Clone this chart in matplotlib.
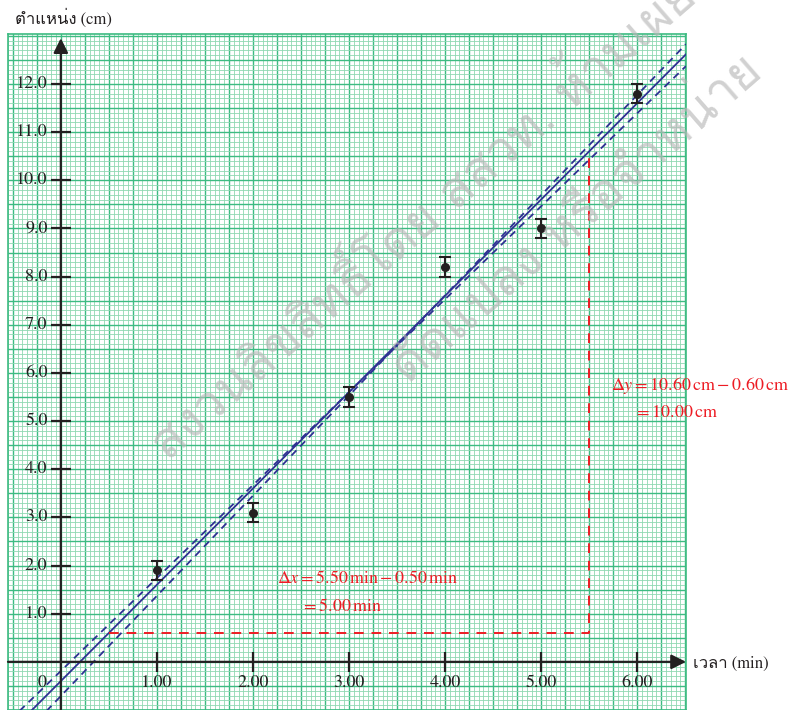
import matplotlib
matplotlib.use("Agg")
import matplotlib.pyplot as plt

# data
times = [1.0, 2.0, 3.0, 4.0, 5.0, 6.0]            # min
positions = [1.9, 3.1, 5.5, 8.2, 9.0, 11.8]       # cm
pos_err = [0.2, 0.2, 0.2, 0.2, 0.2, 0.2]
x_ticks = [1.0, 2.0, 3.0, 4.0, 5.0, 6.0]
x_labels = ["1.00", "2.00", "3.00", "4.00", "5.00", "6.00"]
y_ticks = [1.0, 2.0, 3.0, 4.0, 5.0, 6.0, 7.0, 8.0, 9.0, 10.0, 11.0, 12.0]
y_labels = ["1.0", "2.0", "3.0", "4.0", "5.0", "6.0", "7.0", "8.0", "9.0", "10.0", "11.0", "12.0"]
best_fit = (2.00, -0.40)     # slope, intercept
steep_fit = (2.08, -0.71)
shallow_fit = (1.93, -0.19)
slope_x = [0.5, 5.5]
slope_y = [0.6, 10.6]

serif = "STIXGeneral"
thai_family = [serif, "Loma", "DejaVu Sans"]   # Latin in serif, Thai falls to Loma
plt.rcParams["mathtext.fontset"] = "stix"

W, H = 806, 710
fig = plt.figure(figsize=(W / 100, H / 100), dpi=100)

# graph paper area in pixels
px_left, px_right, px_top, px_bot = 8, 686, 34, 710
x0_px, y0_px = 57.3, 665.0
sx, sy = 96.6, 48.4
ax = fig.add_axes([px_left / W, (H - px_bot) / H, (px_right - px_left) / W, (px_bot - px_top) / H])
ax.set_xlim((px_left - x0_px) / sx, (px_right - x0_px) / sx)
ax.set_ylim((y0_px - px_bot) / sy, (y0_px - px_top) / sy)

# paper grid
grid_light = "#8fd8b2"
grid_dark = "#3dbb82"
ax.set_xticks([i * 0.25 for i in range(-2, 27)])
ax.set_xticks([i * 0.05 for i in range(-11, 131)], minor=True)
ax.set_yticks([i * 0.5 for i in range(-2, 27)])
ax.set_yticks([i * 0.1 for i in range(-10, 131)], minor=True)
ax.grid(which="minor", color=grid_light, lw=0.6, ls="-")
ax.grid(which="major", color=grid_dark, lw=1.0, ls="-")
ax.tick_params(which="both", length=0, labelbottom=False, labelleft=False)
ax.set_axisbelow(True)
for sp in ax.spines.values():
    sp.set_color(grid_dark)
    sp.set_linewidth(1.2)

ink = "#231f20"
xl = ax.get_xlim()
yl = ax.get_ylim()
ax.annotate("", xy=(xl[1], 0), xytext=(xl[0], 0),
            arrowprops=dict(arrowstyle="-|>", color=ink, lw=1.6, mutation_scale=22, shrinkA=0, shrinkB=0),
            zorder=4)
ax.annotate("", xy=(0, 12.95), xytext=(0, yl[0]),
            arrowprops=dict(arrowstyle="-|>", color=ink, lw=1.6, mutation_scale=22, shrinkA=0, shrinkB=0),
            zorder=4)
ax.plot(x_ticks, [0] * len(x_ticks), ls="none", marker="|", ms=14, mew=1.6, color=ink, zorder=4)
ax.plot([0] * len(y_ticks), y_ticks, ls="none", marker="_", ms=15, mew=1.6, color=ink, zorder=4)
for t, lab in zip(x_ticks, x_labels):
    ax.text(t, -0.27, lab, ha="center", va="top", fontsize=13, family=serif, color=ink)
for t, lab in zip(y_ticks, y_labels):
    ax.text(-0.14, t, lab, ha="right", va="center", fontsize=13, family=serif, color=ink)
ax.text(-0.2, -0.27, "0", ha="center", va="top", fontsize=13, family=serif, color=ink)

# fitted lines
navy = "#2e3192"
xs = list(xl)
for (m, b), ls in [(best_fit, "-"), (steep_fit, (0, (4, 3))), (shallow_fit, (0, (4, 3)))]:
    ax.plot(xs, [m * v + b for v in xs], color=navy, lw=1.3, ls=ls, zorder=3)

# data with error bars
ax.errorbar(times, positions, yerr=pos_err, fmt="o", color=ink, ms=5.5, capsize=4,
            elinewidth=1.5, capthick=1.5, zorder=5)

# slope triangle
red = "#ed1c24"
ax.plot([slope_x[0], slope_x[1], slope_x[1]], [slope_y[0], slope_y[0], slope_y[1]],
        color=red, lw=1.4, ls=(0, (5, 4)), zorder=3)
ax.text(2.25, 1.75, r"$\Delta x = 5.50\,\mathrm{min} - 0.50\,\mathrm{min}$", color=red, fontsize=13,
        ha="left", va="center")
ax.text(2.5, 1.15, r"$= 5.00\,\mathrm{min}$", color=red, fontsize=13, ha="left", va="center")
fig.text(611 / W, 1 - 385 / H, r"$\Delta y = 10.60\,\mathrm{cm} - 0.60\,\mathrm{cm}$", color=red,
         fontsize=13, ha="left", va="center")
fig.text(634 / W, 1 - 412 / H, r"$= 10.00\,\mathrm{cm}$", color=red, fontsize=13, ha="left", va="center")

# axis titles
fig.text(15 / W, 1 - 18 / H, "ตำแหน่ง (cm)", family=thai_family, fontsize=12, color=ink,
         ha="left", va="center")
fig.text(693 / W, 1 - 664 / H, "เวลา (min)", family=thai_family, fontsize=12, color=ink,
         ha="left", va="center")

# watermark
wm = dict(family=["Loma", "DejaVu Sans"], fontsize=36, color="#b8b8b8", alpha=0.65,
          rotation=41, rotation_mode="anchor", ha="left", va="baseline", zorder=10)
fig.text(168 / W, 1 - 462 / H, "สงวนลิขสิทธิ์โดย สสวท. ห้ามเผยแพร่", **wm)
fig.text(408 / W, 1 - 385 / H, "ดัดแปลง หรือจำหน่าย", **wm)

fig.savefig("out.png", dpi=100)
